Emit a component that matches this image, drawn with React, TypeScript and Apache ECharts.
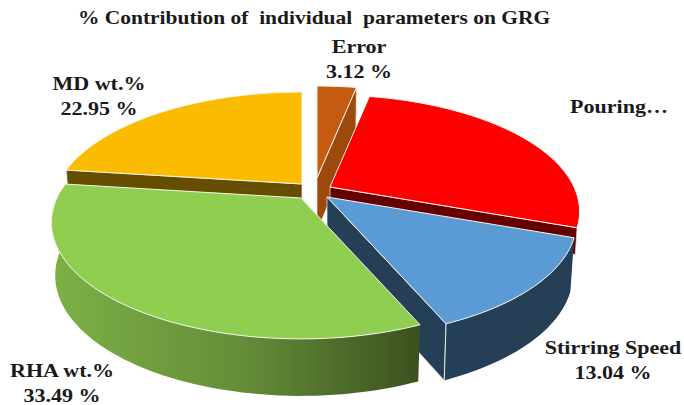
import React, { useEffect, useRef } from "react";
import * as echarts from "echarts";

const titleText = "% Contribution of  individual  parameters on GRG";
const categories = ["Error", "Pouring…", "Stirring Speed", "RHA wt.%", "MD wt.%"];
const values = [3.12, 27.4, 13.04, 33.49, 22.95];
const shownValues = ["3.12 %", "", "13.04 %", "33.49 %", "22.95 %"];
const topColors = ["#C55A11", "#FF0000", "#5B9BD5", "#8FCE4F", "#FBBC00"];
const wallColors = ["#9C490B", "#660000", "#243F56", "", "#664E00"];
const drawOrder = [4, 0, 1, 2, 3];

const apexes = [[317, 178], [330, 187], [327, 197], [301, 198], [302, 184]];
const labelCentres = [[359, 59], [619, 107], [613, 360], [62, 383], [99, 96]];

const RX = 244, RY = 111.3, PERSP = 0.21;

function project(ax: number, ay: number, theta: number, lower: boolean): number[] {
  const u = Math.sin(theta), v = Math.cos(theta);
  const w = 1 + PERSP * v;
  const s = lower ? 0.985 : 1;
  const drop = lower ? 52 - 5 * v : 0;
  return [ax + (s * RX * u) / w, ay - (RY * v) / w + drop];
}

function arcWallVisible(t: number): boolean {
  const u = Math.sin(t), v = Math.cos(t);
  return v < 0.12 && (u < 0 || v < -0.3);
}

function mix(a: number[], b: number[], f: number): number[] {
  return [a[0] + (b[0] - a[0]) * f, a[1] + (b[1] - a[1]) * f];
}

export default function App() {
  const ref = useRef<HTMLDivElement>(null);
  useEffect(() => {
    document.body.style.margin = "0";
    const chart = echarts.init(ref.current!, undefined, { renderer: "svg" });
    const total = values.reduce((a, b) => a + b, 0);
    const starts: number[] = [];
    values.reduce((acc, v, i) => {
      starts[i] = acc;
      return acc + v;
    }, 0);

    const renderItem = (_p: any, api: any) => {
      const idx = api.value(0);
      const value = api.value(1);
      const start = api.value(2);
      const a0 = (start / total) * Math.PI * 2;
      const a1 = ((start + value) / total) * Math.PI * 2;
      const [ax, ay] = apexes[idx];
      const steps = Math.max(6, Math.ceil((a1 - a0) / 0.03));
      const arcTop: number[][] = [];
      const wallTop: number[][] = [];
      const wallLow: number[][] = [];
      for (let i = 0; i <= steps; i++) {
        const t = a0 + ((a1 - a0) * i) / steps;
        arcTop.push(project(ax, ay, t, false));
        if (arcWallVisible(t)) {
          wallTop.push(project(ax, ay, t, false));
          wallLow.push(project(ax, ay, t, true));
        }
      }
      const hasArcWall = wallTop.length > 3;
      const wallFill: any =
        wallColors[idx] ||
        new echarts.graphic.LinearGradient(0, 0, 1, 0, [
          { offset: 0, color: "#7DB046" },
          { offset: 0.5, color: "#668F39" },
          { offset: 1, color: "#3B511E" },
        ]);
      const edgeStyle = { fill: wallFill, stroke: "#E9EDE4", lineWidth: 0.7 };
      const at = [ax, ay];
      const al = [ax, ay + 54];
      const children: any[] = [];
      if (Math.sin(a0) < -1e-6) {
        children.push({
          type: "polygon",
          shape: { points: [at, arcTop[0], project(ax, ay, a0, true), al] },
          style: edgeStyle,
        });
      }
      if (Math.sin(a1) > 1e-6) {
        // A wall hidden behind the next slice at its outer end is drawn shallower.
        const f = !hasArcWall && Math.sin(a1) > 0.5 ? 0.5 : 1;
        const end = arcTop[steps];
        children.push({
          type: "polygon",
          shape: { points: [at, end, mix(end, project(ax, ay, a1, true), f), mix(at, al, f)] },
          style: edgeStyle,
        });
      }
      if (hasArcWall) {
        children.push({
          type: "polygon",
          shape: { points: [...wallTop, ...[...wallLow].reverse()] },
          style: { fill: wallFill },
        });
        if (Math.sin(a1) > 1e-6) {
          children.push({
            type: "polyline",
            shape: { points: [arcTop[steps], project(ax, ay, a1, true)] },
            style: { stroke: "#E9EDE4", lineWidth: 1, fill: "none" },
          });
        }
      }
      children.push({
        type: "polygon",
        shape: { points: [at, ...arcTop] },
        style: { fill: topColors[idx], stroke: "#F4F4F0", lineWidth: 1 },
      });
      return { type: "group", children };
    };

    const textBase = {
      fontFamily: "Liberation Serif",
      fontWeight: "bold",
      fontSize: 19,
      fill: "#1A1A1A",
      align: "center",
      verticalAlign: "middle",
    };
    const makeLabel = (text: string, x: number, y: number) => ({
      type: "text",
      x,
      y,
      scaleX: 1.16,
      style: { ...textBase, text },
    });
    const labelGraphics = categories.flatMap((name, i) => {
      const [x, y] = labelCentres[i];
      return shownValues[i]
        ? [makeLabel(name, x, y - 12.5), makeLabel(shownValues[i], x, y + 12.5)]
        : [makeLabel(name, x, y)];
    });
    const titleGraphic = {
      type: "text",
      x: 314,
      y: 17,
      scaleX: 1.13,
      style: { ...textBase, text: titleText },
    };

    chart.setOption({
      animation: false,
      graphic: [titleGraphic, ...labelGraphics],
      series: [
        {
          type: "custom",
          coordinateSystem: "none",
          renderItem,
          data: drawOrder.map((i) => [i, values[i], starts[i]]),
        },
      ],
    });
    return () => chart.dispose();
  }, []);
  return <div ref={ref} style={{ width: 684, height: 405 }} />;
}
